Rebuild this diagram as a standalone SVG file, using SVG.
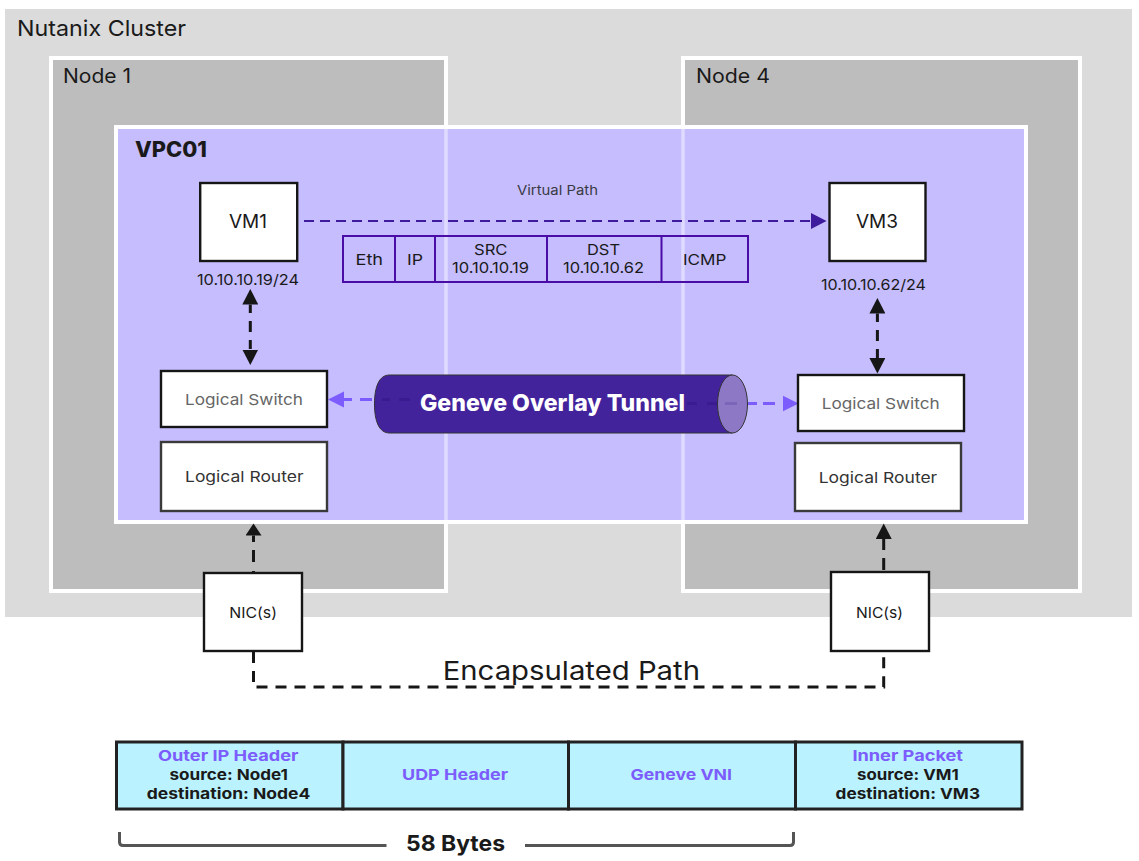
<svg xmlns="http://www.w3.org/2000/svg" width="1139" height="861" viewBox="0 0 1139 861">
<style>
text{font-family:Inter,"Open Sans","Liberation Sans",sans-serif;fill:#1a1a1a;font-weight:400}
.b{font-weight:700}
.x{font-weight:800}
.w{fill:#fff;stroke:#161616;stroke-width:2.4}
.r{fill:#fff;stroke:#3a3a3a;stroke-width:2.4}
.node{fill:#bdbdbd;stroke:#fff;stroke-width:4}
.pk{fill:none;stroke:#4a0ca6;stroke-width:2}
.cell{fill:#baf3ff;stroke:#222;stroke-width:3}
.blk{fill:none;stroke:#161616;stroke-width:3;stroke-dasharray:11 8}
.pur{fill:none;stroke:#7c5cfc;stroke-width:3}
.vio{fill:none;stroke:#3e1a9c;stroke-width:2;stroke-dasharray:10 6}
.hd{font-weight:700}
.br{fill:none;stroke:#555;stroke-width:3}
</style>
<defs>
<marker id="mb" markerUnits="userSpaceOnUse" markerWidth="16" markerHeight="16" refX="0" refY="8" orient="auto-start-reverse"><path d="M0 0L15.500 8L0 16Z" fill="#161616"/></marker>
<marker id="ms" markerUnits="userSpaceOnUse" markerWidth="16" markerHeight="16" refX="0" refY="8" orient="auto"><path d="M0 0L12 8L0 16Z" fill="#161616"/></marker>
<marker id="mp" markerUnits="userSpaceOnUse" markerWidth="17" markerHeight="17" refX="0" refY="8.500" orient="auto-start-reverse"><path d="M0 0.500L16 8.500L0 16.500Z" fill="#7c5cfc"/></marker>
<marker id="mv" markerUnits="userSpaceOnUse" markerWidth="16" markerHeight="16" refX="0" refY="8" orient="auto"><path d="M0 0L15.500 8L0 16Z" fill="#3e1a9c"/></marker>
</defs>
<g id="cluster"><rect x="5" y="9" width="1127" height="608" fill="#dbdbdb"/><text x="17" y="36" font-size="22" textLength="169" lengthAdjust="spacingAndGlyphs">Nutanix Cluster</text></g>
<g id="node1"><rect class="node" x="51" y="58" width="395" height="533"/><text x="63" y="83" font-size="20" textLength="68" lengthAdjust="spacingAndGlyphs">Node 1</text></g>
<g id="node4"><rect class="node" x="683" y="58" width="397" height="533"/><text x="696" y="83" font-size="20" textLength="74" lengthAdjust="spacingAndGlyphs">Node 4</text></g>
<g id="vpc"><rect x="116" y="127" width="910" height="395" fill="#c5bdfe" stroke="#fff" stroke-width="4"/>
<path d="M446 129V520M683 129V520" stroke="#dfdaff" stroke-width="3.500" fill="none"/>
<text class="x" x="135" y="157" font-size="21" textLength="72" lengthAdjust="spacingAndGlyphs">VPC01</text></g>
<g id="connectors">
<path class="vio" d="M304 221H811" marker-end="url(#mv)"/>
<path class="blk" style="stroke-dasharray:8.500 8 11 8 9" d="M250.300 304.500V349.500" marker-start="url(#mb)" marker-end="url(#mb)"/>
<path class="blk" style="stroke-dasharray:8.500 8 11 8 9" d="M877.400 313.500V358" marker-start="url(#mb)" marker-end="url(#mb)"/>
<path class="pur" style="stroke-dasharray:12 8 8" d="M372 399.500H344" marker-end="url(#mp)"/>
<path class="pur" style="stroke-dasharray:9 6 12 8" d="M748 403.500H782.500" marker-end="url(#mp)"/>
<path class="blk" style="stroke-dasharray:1 9 12 8 8" d="M253.500 572V535.500" marker-end="url(#ms)"/>
<path class="blk" style="stroke-dasharray:12 8 12" d="M883.700 570V539" marker-end="url(#mb)"/>
<path class="blk" d="M253.500 652V687H883.700V655"/>
</g>
<g id="vm1"><rect class="w" x="200.200" y="183" width="97" height="78"/><text x="229" y="228" font-size="19" textLength="38" lengthAdjust="spacingAndGlyphs">VM1</text><text x="197" y="285" font-size="15" textLength="102" lengthAdjust="spacingAndGlyphs">10.10.10.19/24</text></g>
<g id="vm3"><rect class="w" x="829.500" y="183" width="96" height="78"/><text x="856" y="228" font-size="19" textLength="42" lengthAdjust="spacingAndGlyphs">VM3</text><text x="821" y="290" font-size="15" textLength="105" lengthAdjust="spacingAndGlyphs">10.10.10.62/24</text></g>
<text x="517" y="195" font-size="13" style="fill:#3a3a44" textLength="81" lengthAdjust="spacingAndGlyphs">Virtual Path</text>
<g id="packet">
<rect class="pk" x="343" y="236" width="405" height="46"/>
<path class="pk" d="M395 236V282M435 236V282M547 236V282M661.500 236V282"/>
<text x="355.500" y="265" font-size="15" textLength="27.500" lengthAdjust="spacingAndGlyphs">Eth</text>
<text x="407" y="265" font-size="15" textLength="16" lengthAdjust="spacingAndGlyphs">IP</text>
<text x="474" y="255" font-size="15" textLength="33.500" lengthAdjust="spacingAndGlyphs">SRC</text>
<text x="452" y="273" font-size="15" textLength="77" lengthAdjust="spacingAndGlyphs">10.10.10.19</text>
<text x="587" y="255" font-size="15" textLength="33" lengthAdjust="spacingAndGlyphs">DST</text>
<text x="563" y="273" font-size="15" textLength="81" lengthAdjust="spacingAndGlyphs">10.10.10.62</text>
<text x="683" y="265" font-size="15" textLength="43.500" lengthAdjust="spacingAndGlyphs">ICMP</text>
</g>
<g id="switch1"><rect class="w" x="161" y="371" width="166" height="56"/><text x="185" y="405" font-size="15" style="fill:#666" textLength="118" lengthAdjust="spacingAndGlyphs">Logical Switch</text></g>
<g id="router1"><rect class="r" x="161" y="442" width="166" height="69"/><text x="185" y="482" font-size="15" style="fill:#333" textLength="118.500" lengthAdjust="spacingAndGlyphs">Logical Router</text></g>
<g id="switch4"><rect class="w" x="798" y="375" width="166" height="56"/><text x="821.700" y="409" font-size="15" style="fill:#666" textLength="118" lengthAdjust="spacingAndGlyphs">Logical Switch</text></g>
<g id="router4"><rect class="r" x="795" y="443" width="166" height="68"/><text x="818.700" y="483" font-size="15" style="fill:#333" textLength="118.500" lengthAdjust="spacingAndGlyphs">Logical Router</text></g>
<g id="tunnel">
<path d="M732.500 375H389.500C379 375 374.500 387 374.500 404C374.500 421 379 433 389.500 433H732.500Z" fill="#42239c" stroke="#333" stroke-width="1"/>
<ellipse cx="732.500" cy="404" rx="15" ry="29" fill="#8c78c4" stroke="#333" stroke-width="1"/>
<path d="M382 399.500H390M399 399.500H410M687 403.500H697M707 403.500H717" stroke="#3a1c90" stroke-width="3" fill="none"/>
<path d="M725 403.500H737" stroke="#7a65b8" stroke-width="3" fill="none"/>
<text class="x" x="420" y="411" font-size="23" style="fill:#fff" textLength="265" lengthAdjust="spacingAndGlyphs">Geneve Overlay Tunnel</text>
</g>
<g id="nic1"><rect class="w" x="204" y="573" width="98" height="78"/><text x="229.300" y="618" font-size="15" textLength="47.700" lengthAdjust="spacingAndGlyphs">NIC(s)</text></g>
<g id="nic4"><rect class="w" x="831" y="572" width="98" height="79"/><text x="856" y="618" font-size="15" textLength="47" lengthAdjust="spacingAndGlyphs">NIC(s)</text></g>
<text x="442.700" y="680" font-size="26" textLength="257.300" lengthAdjust="spacingAndGlyphs">Encapsulated Path</text>
<g id="header">
<rect class="cell" x="116.500" y="742" width="226.500" height="67"/>
<rect class="cell" x="343" y="742" width="225.500" height="67"/>
<rect class="cell" x="568.500" y="742" width="227" height="67"/>
<rect class="cell" x="795.500" y="742" width="226.500" height="67"/>
<text class="hd" style="fill:#7c5cfc" x="158" y="761" font-size="15" textLength="140.500" lengthAdjust="spacingAndGlyphs">Outer IP Header</text>
<text class="b" x="169.500" y="780" font-size="15" textLength="118.500" lengthAdjust="spacingAndGlyphs">source: Node1</text>
<text class="b" x="146.800" y="799" font-size="15" textLength="163.600" lengthAdjust="spacingAndGlyphs">destination: Node4</text>
<text class="hd" style="fill:#7c5cfc" x="402" y="780" font-size="15" textLength="106" lengthAdjust="spacingAndGlyphs">UDP Header</text>
<text class="hd" style="fill:#7c5cfc" x="630.600" y="780" font-size="15" textLength="101.400" lengthAdjust="spacingAndGlyphs">Geneve VNI</text>
<text class="hd" style="fill:#7c5cfc" x="852.400" y="761" font-size="15" textLength="110.600" lengthAdjust="spacingAndGlyphs">Inner Packet</text>
<text class="b" x="857" y="780" font-size="15" textLength="101.700" lengthAdjust="spacingAndGlyphs">source: VM1</text>
<text class="b" x="835.600" y="799" font-size="15" textLength="144.400" lengthAdjust="spacingAndGlyphs">destination: VM3</text>
</g>
<g id="bytes">
<path class="br" d="M119.500 832V842Q119.500 845.500 123 845.500H386.500M525 845.500H790Q793.500 845.500 793.500 842V832"/>
<text class="b" x="406" y="851" font-size="22" textLength="99" lengthAdjust="spacingAndGlyphs">58 Bytes</text>
</g>
</svg>
